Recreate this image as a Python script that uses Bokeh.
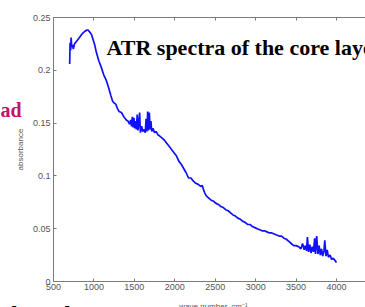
import math
from bokeh.plotting import figure
from bokeh.models import LinearAxis, Label, FixedTicker, CustomJSTickFormatter, Range1d, ColumnDataSource
from bokeh.embed import file_html
from bokeh.resources import INLINE

wavenumber = [700, 705, 712, 718, 725, 735, 745, 760, 780, 800, 830, 860, 890, 910, 930, 950, 970, 990,
              1010, 1030, 1060, 1090, 1120, 1150, 1180, 1210, 1230, 1250, 1270, 1290, 1310, 1340, 1370,
              1400, 1420, 1440, 1455, 1465, 1475, 1485, 1495, 1505, 1515, 1525, 1535, 1545, 1555, 1565,
              1575, 1590, 1605, 1620, 1635, 1645, 1655, 1665, 1675, 1685, 1695, 1705, 1715, 1730, 1750,
              1770, 1790, 1810, 1840, 1870, 1900, 1930, 1960, 1990, 2020, 2050, 2080, 2110, 2140, 2170,
              2200, 2230, 2260, 2290, 2320, 2340, 2355, 2370, 2390, 2420, 2450, 2480, 2510, 2540, 2570,
              2600, 2630, 2660, 2690, 2720, 2750, 2780, 2810, 2840, 2870, 2900, 2930, 2960, 2990, 3020,
              3050, 3080, 3110, 3140, 3170, 3200, 3230, 3260, 3290, 3320, 3350, 3380, 3410, 3440, 3470,
              3500, 3530, 3560, 3580, 3600, 3615, 3630, 3640, 3655, 3670, 3685, 3700, 3715, 3730, 3740,
              3755, 3770, 3785, 3800, 3815, 3830, 3845, 3855, 3870, 3885, 3900, 3920, 3940, 3960, 3980, 4000]

absorbance = [0.206, 0.226, 0.219, 0.231, 0.222, 0.224, 0.220, 0.225, 0.227, 0.229, 0.232, 0.235, 0.237,
              0.238, 0.238, 0.236, 0.234, 0.229, 0.224, 0.217, 0.209, 0.203, 0.196, 0.191, 0.184, 0.176,
              0.171, 0.169, 0.168, 0.164, 0.161, 0.160, 0.156, 0.153, 0.152, 0.149, 0.153, 0.147, 0.156,
              0.146, 0.155, 0.145, 0.152, 0.144, 0.158, 0.143, 0.150, 0.160, 0.141, 0.147, 0.142, 0.144,
              0.141, 0.154, 0.142, 0.161, 0.143, 0.160, 0.144, 0.152, 0.142, 0.145, 0.141, 0.142, 0.139,
              0.138, 0.136, 0.134, 0.131, 0.128, 0.125, 0.122, 0.119, 0.114, 0.111, 0.107, 0.103, 0.098,
              0.098, 0.095, 0.093, 0.092, 0.090, 0.091, 0.087, 0.084, 0.081, 0.079, 0.077, 0.076, 0.074,
              0.073, 0.071, 0.070, 0.068, 0.067, 0.065, 0.063, 0.062, 0.060, 0.059, 0.057, 0.056, 0.054,
              0.054, 0.052, 0.051, 0.050, 0.049, 0.048, 0.048, 0.047, 0.046, 0.046, 0.045, 0.044, 0.043,
              0.043, 0.041, 0.040, 0.038, 0.036, 0.034, 0.034, 0.033, 0.031, 0.036, 0.030, 0.034, 0.029,
              0.042, 0.028, 0.035, 0.027, 0.033, 0.028, 0.041, 0.026, 0.043, 0.026, 0.034, 0.025, 0.031,
              0.024, 0.029, 0.039, 0.024, 0.030, 0.023, 0.025, 0.021, 0.022, 0.020, 0.018]

x_ticks = [500, 1000, 1500, 2000, 2500, 3000, 3500, 4000, 4500]
y_ticks = [0, 0.05, 0.1, 0.15, 0.2, 0.25]
x_min, x_max = 500, 4500
y_min, y_max = 0, 0.25
title_text = "ATR spectra of the core layer"
side_text = "ad"
bottom_text = ["l", "l"]
y_label = "absorbance"
x_label = "wave number, cm\u207b\u00b9"

W, H = 365, 307
# frame covers the whole canvas; axes sit at fixed data locations inside it
px_per_x = 283 / 3500.0
px_per_y = 1056.0
x_lo = x_min - 53 / px_per_x
x_hi = x_min + (W - 53) / px_per_x
y_hi = y_max + 17 / px_per_y
y_lo = y_min - (H - 281) / px_per_y

p = figure(width=W, height=H, output_backend="svg", toolbar_location=None,
           x_range=Range1d(x_lo, x_hi), y_range=Range1d(y_lo, y_hi),
           min_border=0, x_axis_location=None, y_axis_location=None)
p.grid.visible = False
p.outline_line_color = None
p.background_fill_color = "white"
p.border_fill_color = "white"

src = ColumnDataSource(dict(x=wavenumber, y=absorbance))
p.line("x", "y", source=src, line_color="#1010FF", line_width=1.7)

fmt = CustomJSTickFormatter(code="var s = tick.toFixed(2); s = s.replace(/0+$/, ''); s = s.replace(/\\.$/, ''); return s;")
blank = CustomJSTickFormatter(code="return '';")

axis_color = "#7a7a7a"
label_color = "#555555"

xb = LinearAxis(ticker=FixedTicker(ticks=x_ticks), fixed_location=y_min, bounds=(x_min, x_hi))
xb.axis_line_color = axis_color
xb.major_tick_line_color = axis_color
xb.major_tick_in = 3
xb.major_tick_out = 0
xb.minor_tick_line_color = None
xb.major_label_text_font = "Liberation Sans"
xb.major_label_text_font_size = "9px"
xb.major_label_text_color = label_color
xb.major_label_standoff = 2
p.add_layout(xb, "below")

xt = LinearAxis(ticker=FixedTicker(ticks=x_ticks), formatter=blank, fixed_location=y_max, bounds=(x_min, x_hi))
xt.axis_line_color = axis_color
xt.major_tick_line_color = axis_color
xt.major_tick_in = 3
xt.major_tick_out = 0
xt.minor_tick_line_color = None
xt.major_label_standoff = 0
p.add_layout(xt, "above")

yl = LinearAxis(ticker=FixedTicker(ticks=y_ticks), formatter=fmt, fixed_location=x_min, bounds=(y_min, y_max))
yl.axis_line_color = axis_color
yl.major_tick_line_color = axis_color
yl.major_tick_in = 3
yl.major_tick_out = 0
yl.minor_tick_line_color = None
yl.major_label_text_font = "Liberation Sans"
yl.major_label_text_font_size = "9px"
yl.major_label_text_color = label_color
yl.major_label_standoff = 3
yl.axis_label = y_label
yl.axis_label_text_font = "Liberation Sans"
yl.axis_label_text_font_style = "normal"
yl.axis_label_text_font_size = "8px"
yl.axis_label_text_color = label_color
yl.axis_label_standoff = 5
p.add_layout(yl, "left")

def scr_label(text, x, y, size, color, style="bold", font="Liberation Serif", align="left", baseline="middle"):
    return Label(x=x, y=H - y, x_units="screen", y_units="screen", text=text,
                 text_font=font, text_font_style=style, text_font_size=size,
                 text_color=color, text_align=align, text_baseline=baseline)

p.add_layout(scr_label(title_text, 106, 47, "22px", "black"))
p.add_layout(scr_label(side_text, 0, 109, "20px", "#C2136B"))
p.add_layout(scr_label(bottom_text[0], 11, 300, "22px", "black", baseline="top"))
p.add_layout(scr_label(bottom_text[1], 64, 300, "22px", "black", baseline="top"))
p.add_layout(scr_label(x_label, 213, 301, "8px", label_color, style="normal",
                       font="Liberation Sans", align="center", baseline="top"))

open("out.html", "w").write(file_html(p, INLINE))
